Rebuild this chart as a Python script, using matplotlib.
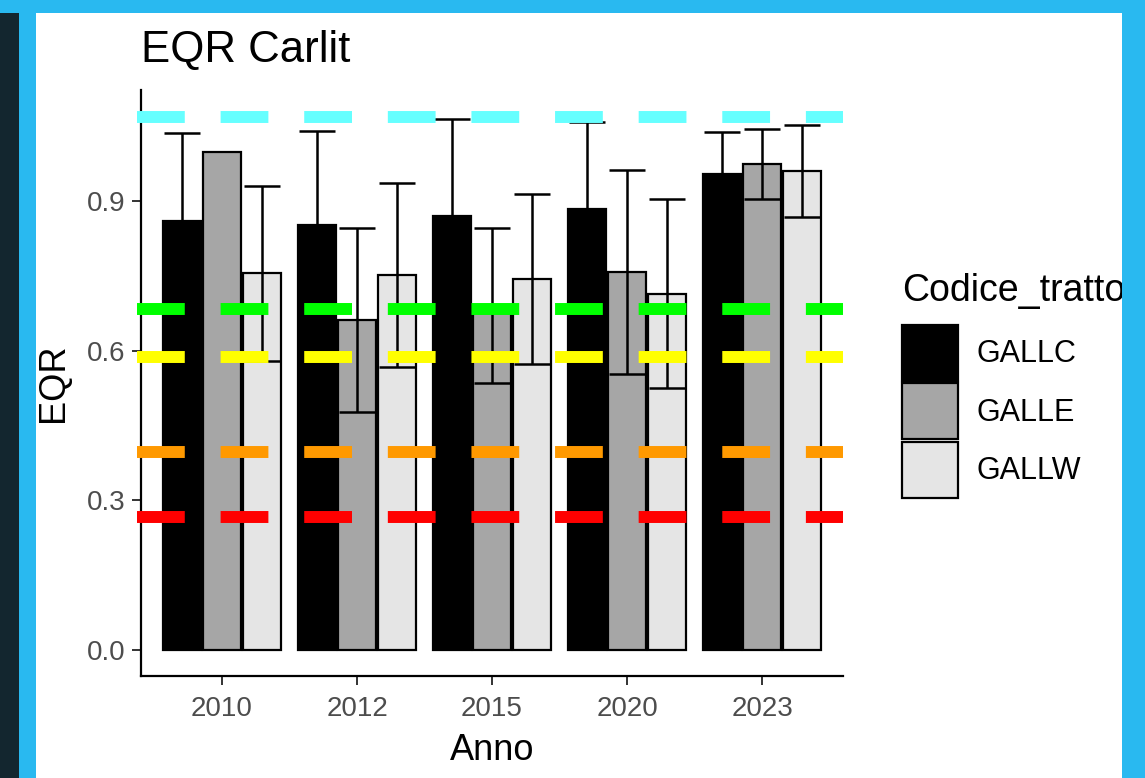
import numpy as np
import matplotlib
matplotlib.use("Agg")
import matplotlib.pyplot as plt
from matplotlib.patches import Rectangle, Patch

plt.rcParams['font.family'] = ['Liberation Sans', 'DejaVu Sans']

# data
years = ["2010", "2012", "2015", "2020", "2023"]
groups = ["GALLC", "GALLE", "GALLW"]
gallc = [0.860, 0.852, 0.870, 0.884, 0.954]
gallc_err = [0.176, 0.188, 0.194, 0.174, 0.084]
galle = [0.998, 0.661, 0.690, 0.757, 0.974]
galle_err = [np.nan, 0.185, 0.155, 0.204, 0.070]
gallw = [0.755, 0.751, 0.743, 0.714, 0.960]
gallw_err = [0.175, 0.184, 0.170, 0.190, 0.092]

# threshold lines
thresholds = [1.068, 0.683, 0.587, 0.396, 0.267]
threshold_colors = ["#66FFFF", "#00FF00", "#FFFF00", "#FF9900", "#FF0000"]

fill_colors = ["#000000", "#A6A6A6", "#E5E5E5"]
means = [gallc, galle, gallw]
errs = [gallc_err, galle_err, gallw_err]

W, H = 1145, 778
fig = plt.figure(figsize=(W / 100, H / 100), dpi=100)
fig.patch.set_facecolor("white")

ax = fig.add_axes([141 / W, 1 - 676 / H, (843 - 141) / W, (676 - 90) / H])

x = np.arange(len(years))
for i, (m, e) in enumerate(zip(means, errs)):
    pos = x + (i - 1) * 0.298
    ax.bar(pos, m, width=0.285, color=fill_colors[i], edgecolor="black",
           linewidth=1.6, zorder=2, label=groups[i])
    ax.errorbar(pos, m, yerr=e, fmt="none", ecolor="black", elinewidth=1.8,
                capsize=13, capthick=1.8, zorder=3)

for yv, c in zip(thresholds, threshold_colors):
    ax.axhline(yv, xmin=-0.006, xmax=1, color=c, linewidth=8.6,
               linestyle=(0, (4, 3)), dash_capstyle="butt",
               clip_on=False, zorder=4)

ax.set_xlim(-0.6, 4.6)
ax.set_ylim(-0.052, 1.122)
ax.set_xticks(x)
ax.set_xticklabels(years)
ax.set_yticks([0.0, 0.3, 0.6, 0.9])
ax.set_yticklabels(["0.0", "0.3", "0.6", "0.9"])
ax.tick_params(labelsize=20, labelcolor="#4D4D4D", color="#333333",
               length=6.5, width=1.4)
ax.tick_params(axis="x", pad=8)
ax.tick_params(axis="y", pad=5)

for s in ["top", "right"]:
    ax.spines[s].set_visible(False)
for s in ["left", "bottom"]:
    ax.spines[s].set_linewidth(1.6)
    ax.spines[s].set_color("black")

ax.set_xlabel("Anno", fontsize=26, labelpad=8)
ax.set_ylabel("EQR", fontsize=26, labelpad=11)
ax.set_title("EQR Carlit", fontsize=31.5, loc="left", pad=20)

# legend (title drawn separately to get the ggplot spacing)
handles = [Patch(facecolor=fill_colors[i], edgecolor="black", linewidth=1.6)
           for i in range(3)]
leg = ax.legend(handles, groups, loc="upper left",
                bbox_to_anchor=(902 / W, 1 - 325 / H),
                bbox_transform=fig.transFigure, frameon=False,
                fontsize=22, handlelength=1.83,
                handleheight=2.44, labelspacing=0.08, handletextpad=0.62,
                borderpad=0, borderaxespad=0)
fig.text(902 / W, 1 - 291 / H, "Codice_tratto", fontsize=27,
         ha="left", va="center")

# screenshot frame
blue = "#29B9F0"
dark = "#13262F"
frame = [
    (0, 0, 19, H, dark),
    (19, 0, 17, H, blue),
    (0, 0, W, 13, blue),
    (1122, 0, W - 1122, H, blue),
]
for fx, fy, fw, fh, fc in frame:
    fig.add_artist(Rectangle((fx / W, 1 - (fy + fh) / H), fw / W, fh / H,
                             transform=fig.transFigure, facecolor=fc,
                             edgecolor="none", zorder=10))

fig.savefig("out.png", dpi=100)
